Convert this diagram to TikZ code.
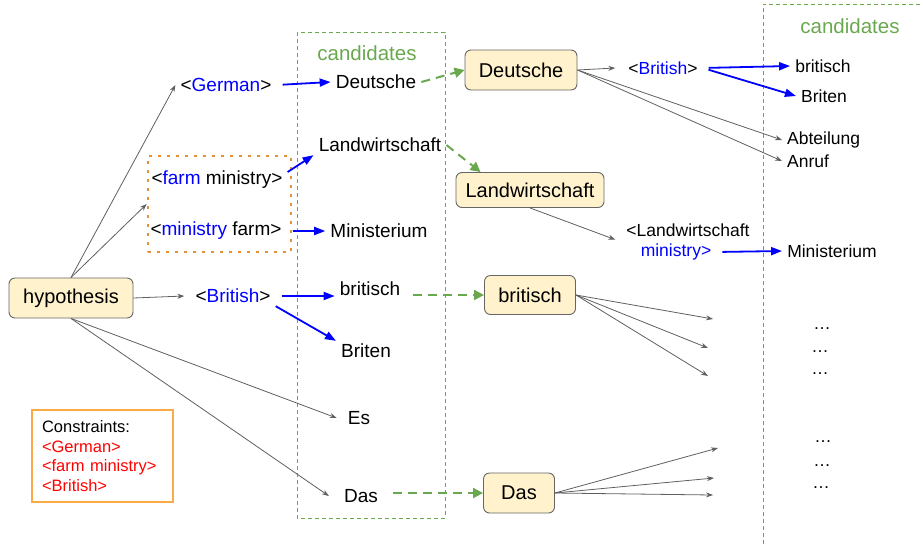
\documentclass[tikz,border=0pt]{standalone}
\usepackage{fontspec}
\setmainfont{Liberation Sans}
\usetikzlibrary{arrows.meta,positioning}
\definecolor{notegreen}{RGB}{106,168,79}
\definecolor{tokblue}{RGB}{0,0,255}
\definecolor{boxfill}{RGB}{255,242,204}
\definecolor{boxline}{RGB}{102,102,102}
\definecolor{edgegray}{RGB}{95,95,95}
\definecolor{dotorange}{RGB}{230,145,56}
\definecolor{consorange}{RGB}{250,170,70}
\definecolor{consred}{RGB}{255,0,0}

\begin{document}
\begin{tikzpicture}[x=1pt, y=-1pt,
    every node/.style={inner xsep=5pt, inner ysep=3pt},
    tokbox/.style={draw=boxline, fill=boxfill, rounded corners=6pt, line width=0.9pt, font=\fontsize{20}{24}\selectfont},
    word/.style={font=\fontsize{19}{22}\selectfont},
    smallword/.style={font=\fontsize{17.5}{21}\selectfont},
    candlabel/.style={text=notegreen, font=\fontsize{20.5}{24}\selectfont},
    grayedge/.style={draw=edgegray, line width=0.8pt, -{Stealth[length=7pt,width=5pt]}},
    blueedge/.style={draw=tokblue, line width=1.8pt, shorten <=6pt, -{Triangle[length=11pt,width=8pt]}},
    greenedge/.style={draw=notegreen, line width=2pt, dash pattern=on 9pt off 6pt, -{Triangle[length=10pt,width=10pt]}},
    candframe/.style={draw=notegreen, line width=0.9pt, dash pattern=on 4pt off 3pt}]
    \useasboundingbox (0,0) rectangle (923,544);

    % candidate columns
    \draw[candframe] (297,32) rectangle (445,518);
    \draw[candframe] (763,544) -- (763,4) -- (923,4);
    \node[candlabel] (candA) at (367,53) {candidates};
    \node[candlabel] (candB) at (850,26) {candidates};

    % first step
    \node[tokbox, minimum width=124pt, minimum height=40pt] (hyp) at (71,298) {hypothesis};
    \node[word] (german) at (226,85) {<\textcolor{tokblue}{German}>};
    \node[word] (deu) at (376,82) {Deutsche};
    \node[word] (land) at (380,145) {Landwirtschaft};
    \node[word] (farmmin) at (217,180) {<\textcolor{tokblue}{farm} ministry>};
    \node[word] (minfarm) at (216,231) {<\textcolor{tokblue}{ministry} farm>};
    \node[word] (minist) at (379,231) {Ministerium};
    \node[draw=dotorange, line width=2.6pt, dash pattern=on 2.6pt off 6.4pt, minimum width=143pt, minimum height=96pt] (pair) at (219.5,204) {};
    \node[word] (brit) at (233,296) {<\textcolor{tokblue}{British}>};
    \node[word] (britisch) at (370,289) {britisch};
    \node[word] (briten) at (366,351) {Briten};
    \node[word] (es) at (359,418) {Es};
    \node[word] (das) at (361,496) {Das};
    \node[draw=consorange, line width=1.8pt, minimum width=141pt, minimum height=92pt, text width=121pt, inner xsep=10pt, align=left, font=\fontsize{16.5}{19.7}\selectfont] (cons) at (102.5,456)
        {Constraints:\\\textcolor{consred}{<German>}\\\textcolor{consred}{<farm ministry>}\\\textcolor{consred}{<British>}};

    % second step
    \node[tokbox, minimum width=112pt, minimum height=40pt] (deubox) at (521,70) {Deutsche};
    \node[tokbox, minimum width=148pt, minimum height=35pt] (landbox) at (530,190) {Landwirtschaft};
    \node[tokbox, minimum width=91pt, minimum height=39pt] (britbox) at (530,295) {britisch};
    \node[tokbox, minimum width=71pt, minimum height=40pt] (dasbox) at (519,493) {Das};
    \node[smallword] (brit2) at (663,68) {<\textcolor{tokblue}{British}>};
    \node[smallword] (britisch2) at (823,66) {britisch};
    \node[smallword] (briten2) at (824,96) {Briten};
    \node[smallword, anchor=west] (abteil) at (782,140) {Abteilung};
    \node[smallword, anchor=west] (anruf) at (782,161) {Anruf};
    \node[smallword] (landminA) at (688,230) {<Landwirtschaft};
    \node[smallword, text=tokblue] (landminB) at (676,252) {ministry>};
    \node[smallword] (minist2) at (832,251) {Ministerium};
    \foreach \x/\y [count=\i] in {822/329, 820/352, 820/374, 823/442, 822/466, 821/488}
        \node[smallword] (dots\i) at (\x,\y) {…};
    \coordinate (bA) at (713,319);
    \coordinate (bB) at (708,348);
    \coordinate (bC) at (708,376);
    \coordinate (dA) at (718,448);
    \coordinate (dB) at (714,478);
    \coordinate (dC) at (713,495);

    \draw[grayedge] (hyp.north) -- (german.west);
    \draw[grayedge] (hyp.north) -- (pair.west);
    \draw[grayedge] (hyp.east) -- ([xshift=-6pt]brit.west);
    \draw[grayedge] (hyp.south) -- ([xshift=-6pt]es.west);
    \draw[grayedge] (hyp.south) -- ([xshift=-10pt]das.west);

    \draw[blueedge] (german.east) -- (deu.west);
    \draw[blueedge, shorten <=0pt] ([yshift=8pt]farmmin.east) -- (land.south west);
    \draw[blueedge] (minfarm.east) -- (minist.west);
    \draw[blueedge] (brit.east) -- (brit.east -| britisch.west);
    \draw[blueedge, shorten <=0pt] (brit.south east) -- (briten.north west);

    \draw[greenedge] (deu.east) -- (deubox.west);
    \draw[greenedge] (land.east) -- ([xshift=25pt]landbox.north west);
    \draw[greenedge, shorten <=8pt] (britisch.east |- britbox.west) -- (britbox.west);
    \draw[greenedge, shorten <=10pt] (das.east |- dasbox.west) -- (dasbox.west);

    \draw[grayedge] (deubox.east) -- ([xshift=-8pt]brit2.west);
    \draw[grayedge] (deubox.east) -- (abteil.west);
    \draw[grayedge] (deubox.east) -- (anruf.west);
    \draw[grayedge] (landbox.south) -- ([xshift=-6pt]landminA.south west);
    \foreach \t in {bA,bB,bC}
        \draw[grayedge] (britbox.east) -- (\t);
    \foreach \t in {dA,dB,dC}
        \draw[grayedge] (dasbox.east) -- (\t);

    \draw[blueedge] (brit2.east) -- (britisch2.west);
    \draw[blueedge] (brit2.east) -- (briten2.west);
    \draw[blueedge] (landminB.east) -- (minist2.west);
\end{tikzpicture}
\end{document}
